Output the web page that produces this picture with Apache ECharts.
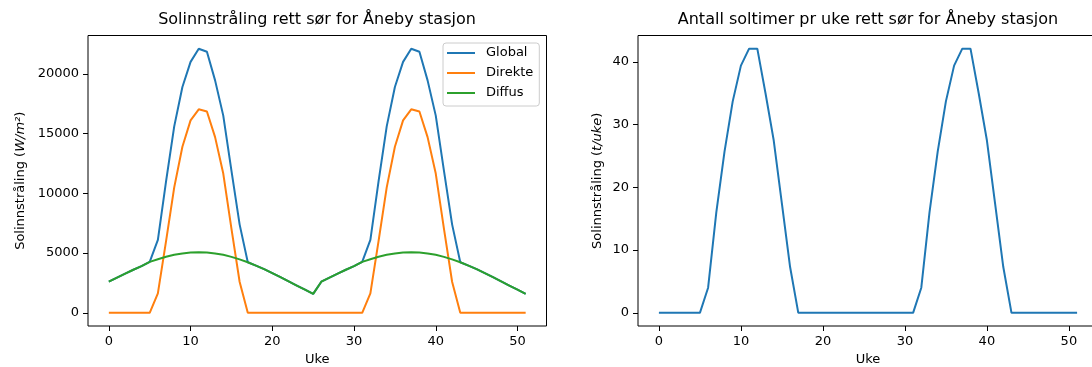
<!DOCTYPE html>
<html>
<head>
<meta charset="utf-8">
<script src="https://cdn.jsdelivr.net/npm/echarts@6/dist/echarts.min.js"></script>
<style>
html,body{margin:0;padding:0;background:#fff;}
#chart{width:1092px;height:367px;}
</style>
</head>
<body>
<div id="chart"></div>
<script>
const weeks = [0,1,2,3,4,5,6,7,8,9,10,11,12,13,14,15,16,17,18,19,20,21,22,23,24,25,
               26,27,28,29,30,31,32,33,34,35,36,37,38,39,40,41,42,43,44,45,46,47,48,49,50,51];

const globalVals = [2600,2950,3280,3600,3900,4260,6100,11000,15600,18900,21000,22100,21850,19450,16500,11900,7400,4230,3950,3650,3320,2980,2630,2280,1930,1580,
                    2600,2950,3280,3600,3900,4260,6100,11000,15600,18900,21000,22100,21850,19450,16500,11900,7400,4230,3950,3650,3320,2980,2630,2280,1930,1580];

const direkteVals = [0,0,0,0,0,0,1620,6000,10500,13900,16100,17030,16850,14700,11650,7050,2600,0,0,0,0,0,0,0,0,0,
                     0,0,0,0,0,0,1620,6000,10500,13900,16100,17030,16850,14700,11650,7050,2600,0,0,0,0,0,0,0,0,0];

const diffusVals = [2600,2950,3280,3600,3900,4260,4480,4690,4850,4970,5040,5060,5040,4970,4850,4680,4470,4230,3950,3650,3320,2980,2630,2280,1930,1580,
                    2600,2950,3280,3600,3900,4260,4480,4690,4850,4970,5040,5060,5040,4970,4850,4680,4470,4230,3950,3650,3320,2980,2630,2280,1930,1580];

const soltimerVals = [0,0,0,0,0,0,4,16,25.7,33.7,39.4,42.1,42.1,35,27.5,17.4,7.3,0,0,0,0,0,0,0,0,0,
                      0,0,0,0,0,0,4,16,25.7,33.7,39.4,42.1,42.1,35,27.5,17.4,7.3,0,0,0,0,0,0,0,0,0];

const xTicks = [0,10,20,30,40,50];
const yTicksLeft = [0,5000,10000,15000,20000];
const yTicksRight = [0,10,20,30,40];

const title1 = 'Solinnstråling rett sør for Åneby stasjon';
const title2 = 'Antall soltimer pr uke rett sør for Åneby stasjon';

const FONT = 'DejaVu Sans';
const pair = arr => weeks.map((w, i) => [w, arr[i]]);

function xAxisCfg(gridIndex) {
  return {
    type: 'value', gridIndex: gridIndex, min: -2.55, max: 53.55, position: 'bottom',
    name: 'Uke', nameLocation: 'middle', nameGap: 25,
    nameTextStyle: {fontFamily: FONT, fontSize: 13, color: '#000'},
    axisLine: {show: false, onZero: false},
    axisTick: {show: true, customValues: xTicks, length: 5, lineStyle: {color: '#000', width: 1}},
    axisLabel: {show: true, customValues: xTicks, margin: 9, fontFamily: FONT, fontSize: 13, color: '#000',
                formatter: v => String(v)},
    splitLine: {show: false}
  };
}
function yAxisCfg(gridIndex, min, max, ticks, name, gap) {
  return {
    type: 'value', gridIndex: gridIndex, min: min, max: max, position: 'left',
    name: name, nameLocation: 'middle', nameRotate: 90, nameGap: gap,
    nameTextStyle: {fontFamily: FONT, fontSize: 13, color: '#000',
      rich: {i: {fontFamily: FONT, fontSize: 13, fontStyle: 'italic', color: '#000'}}},
    axisLine: {show: false, onZero: false},
    axisTick: {show: true, customValues: ticks, length: 5, lineStyle: {color: '#000', width: 1}},
    axisLabel: {show: true, customValues: ticks, margin: 9, fontFamily: FONT, fontSize: 13, color: '#000',
                formatter: v => String(v)},
    splitLine: {show: false}
  };
}

const chart = echarts.init(document.getElementById('chart'), null, {renderer: 'canvas'});
chart.setOption({
  animation: false,
  backgroundColor: '#fff',
  textStyle: {fontFamily: FONT},
  title: [
    {text: title1, left: 317, top: 12, textAlign: 'center', padding: 0,
     textStyle: {fontFamily: FONT, fontSize: 16, fontWeight: 'normal', color: '#000'}},
    {text: title2, left: 868, top: 12, textAlign: 'center', padding: 0,
     textStyle: {fontFamily: FONT, fontSize: 16, fontWeight: 'normal', color: '#000'}}
  ],
  legend: {
    data: ['Global', 'Direkte', 'Diffus'],
    orient: 'vertical', left: 443, top: 43,
    padding: [3, 6, 6, 4], itemGap: 6,
    itemWidth: 28, itemHeight: 2, icon: 'rect',
    backgroundColor: 'rgba(255,255,255,0.8)', borderColor: '#cccccc', borderWidth: 1, borderRadius: 3,
    textStyle: {fontFamily: FONT, fontSize: 13, color: '#000', lineHeight: 14, padding: [0, 0, 0, 6]}
  },
  grid: [
    {left: 88, top: 35.5, width: 458.5, height: 290.5, show: true, borderColor: '#000', borderWidth: 1,
     backgroundColor: 'transparent', outerBoundsMode: 'none', containLabel: false},
    {left: 638, top: 35.5, width: 460, height: 290.5, show: true, borderColor: '#000', borderWidth: 1,
     backgroundColor: 'transparent', outerBoundsMode: 'none', containLabel: false}
  ],
  xAxis: [xAxisCfg(0), xAxisCfg(1)],
  yAxis: [
    yAxisCfg(0, -1105, 23205, yTicksLeft, 'Solinnstråling ({i|W/m²})', 61),
    yAxisCfg(1, -2.1, 44.2, yTicksRight, 'Solinnstråling ({i|t/uke})', 34)
  ],
  series: [
    {name: 'Global', type: 'line', xAxisIndex: 0, yAxisIndex: 0, data: pair(globalVals),
     symbol: 'none', showSymbol: false, lineStyle: {color: '#1f77b4', width: 2}, itemStyle: {color: '#1f77b4'}, z: 2},
    {name: 'Direkte', type: 'line', xAxisIndex: 0, yAxisIndex: 0, data: pair(direkteVals),
     symbol: 'none', showSymbol: false, lineStyle: {color: '#ff7f0e', width: 2}, itemStyle: {color: '#ff7f0e'}, z: 3},
    {name: 'Diffus', type: 'line', xAxisIndex: 0, yAxisIndex: 0, data: pair(diffusVals),
     symbol: 'none', showSymbol: false, lineStyle: {color: '#2ca02c', width: 2}, itemStyle: {color: '#2ca02c'}, z: 4},
    {name: 'Soltimer', type: 'line', xAxisIndex: 1, yAxisIndex: 1, data: pair(soltimerVals),
     symbol: 'none', showSymbol: false, lineStyle: {color: '#1f77b4', width: 2}, itemStyle: {color: '#1f77b4'}, z: 2}
  ]
});
</script>
</body>
</html>
